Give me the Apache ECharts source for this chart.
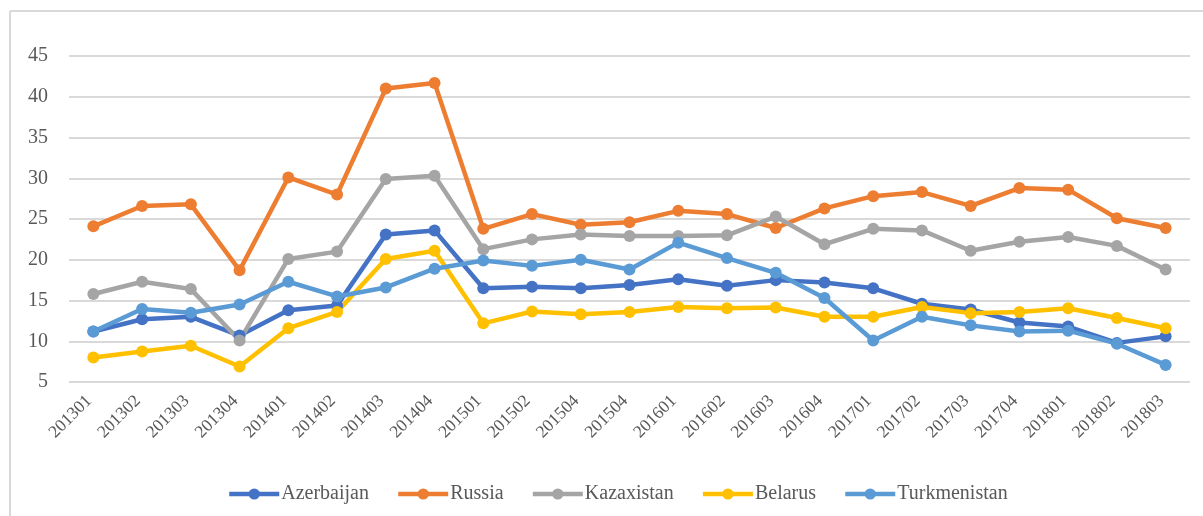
<!DOCTYPE html>
<html>
<head>
<meta charset="utf-8">
<script src="https://cdn.jsdelivr.net/npm/echarts@6/dist/echarts.min.js"></script>
<style>
    html, body { margin: 0; padding: 0; background: #fff; }
    #chart { width: 1203px; height: 516px; }
</style>
</head>
<body>
<div id="chart"></div>
<script>
    // quarters (201504 appears twice in the original axis)
    var quarters = ['201301', '201302', '201303', '201304', '201401', '201402', '201403', '201404',
        '201501', '201502', '201504', '201504', '201601', '201602', '201603', '201604',
        '201701', '201702', '201703', '201704', '201801', '201802', '201803'];

    var azerbaijan = [11.2, 12.7, 13.0, 10.7, 13.8, 14.4, 23.1, 23.6, 16.5, 16.7, 16.5, 16.9,
        17.6, 16.8, 17.5, 17.2, 16.5, 14.6, 13.9, 12.3, 11.8, 9.8, 10.6];
    var russia = [24.1, 26.6, 26.8, 18.7, 30.1, 28.0, 41.0, 41.7, 23.8, 25.6, 24.3, 24.6,
        26.0, 25.6, 23.9, 26.3, 27.8, 28.3, 26.6, 28.8, 28.6, 25.1, 23.9];
    var kazaxistan = [15.8, 17.3, 16.4, 10.1, 20.1, 21.0, 29.9, 30.3, 21.3, 22.5, 23.1, 22.9,
        22.9, 23.0, 25.3, 21.9, 23.8, 23.6, 21.1, 22.2, 22.8, 21.7, 18.8];
    var belarus = [8.0, 8.75, 9.45, 6.9, 11.6, 13.6, 20.1, 21.1, 12.2, 13.65, 13.3, 13.6,
        14.2, 14.05, 14.15, 13.0, 13.0, 14.2, 13.45, 13.6, 14.05, 12.85, 11.6];
    var turkmenistan = [11.2, 13.95, 13.5, 14.5, 17.3, 15.5, 16.6, 18.9, 19.9, 19.25, 20.0, 18.8,
        22.1, 20.2, 18.4, 15.3, 10.1, 13.0, 11.95, 11.2, 11.3, 9.7, 7.1];

    var yTicks = [5, 10, 15, 20, 25, 30, 35, 40, 45];

    var names = ['Azerbaijan', 'Russia', 'Kazaxistan', 'Belarus', 'Turkmenistan'];
    var colors = ['#4472C4', '#ED7D31', '#A5A5A5', '#FFC000', '#5B9BD5'];
    var values = [azerbaijan, russia, kazaxistan, belarus, turkmenistan];

    var font = 'Liberation Serif';

    var myChart = echarts.init(document.getElementById('chart'));
    var option = {
        animation: false,
        color: colors,
        graphic: [
            // thin frame like the original picture (top and left only)
            {type: 'line', shape: {x1: 10, y1: 11, x2: 1203, y2: 11}, style: {stroke: '#d9d9d9', lineWidth: 2}},
            {type: 'line', shape: {x1: 10, y1: 11, x2: 10, y2: 516}, style: {stroke: '#d9d9d9', lineWidth: 2}}
        ],
        legend: {
            top: 479,
            left: 222,
            itemWidth: 50,
            itemHeight: 14,
            itemGap: 27,
            lineStyle: {width: 4.5},
            textStyle: {fontFamily: font, fontSize: 20, color: '#595959', padding: [0, 0, 0, -3]},
            data: names
        },
        grid: {
            left: 69,
            right: 13,
            top: 56,
            bottom: 134
        },
        xAxis: {
            type: 'category',
            data: quarters,
            boundaryGap: true,
            axisLine: {show: false},
            axisTick: {show: false},
            axisLabel: {
                interval: 0,
                rotate: 45,
                margin: 12,
                padding: [0, 6, 0, 0],
                fontFamily: font,
                fontSize: 17.5,
                color: '#595959'
            }
        },
        yAxis: {
            type: 'value',
            min: yTicks[0],
            max: yTicks[yTicks.length - 1],
            interval: 5,
            axisLine: {show: false},
            axisTick: {show: false},
            axisLabel: {
                margin: 21,
                fontFamily: font,
                fontSize: 20,
                color: '#595959'
            },
            splitLine: {lineStyle: {color: '#d9d9d9', width: 2}}
        },
        series: names.map(function (n, i) {
            return {
                name: n,
                type: 'line',
                data: values[i],
                symbol: 'circle',
                symbolSize: 12,
                lineStyle: {width: 4.5, color: colors[i]},
                itemStyle: {color: colors[i]}
            };
        })
    };
    option && myChart.setOption(option);
</script>
</body>
</html>
